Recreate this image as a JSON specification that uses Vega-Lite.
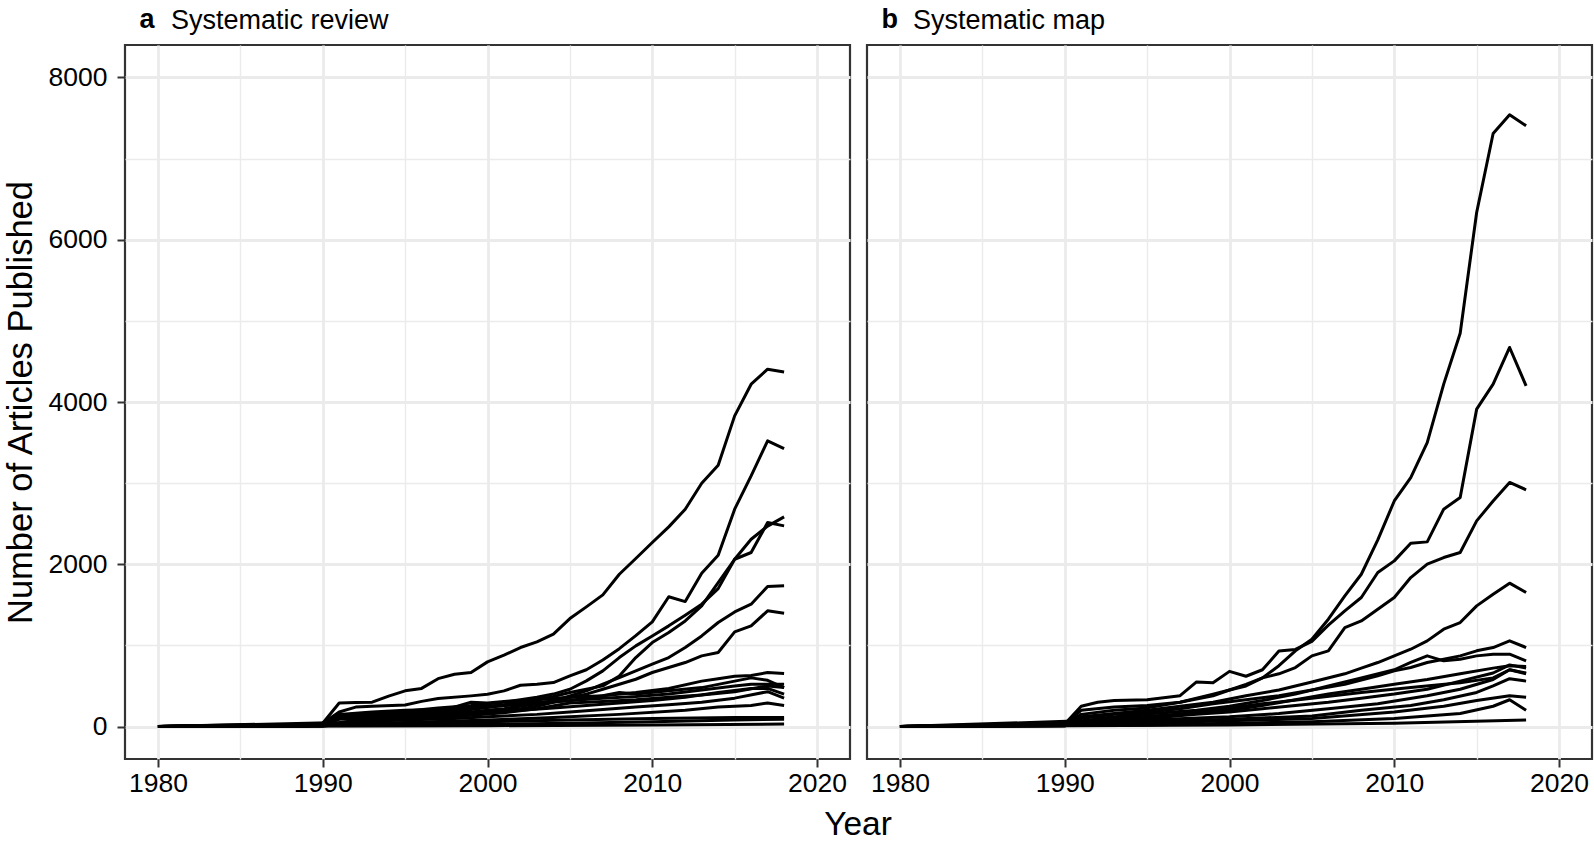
{
  "$schema": "https://vega.github.io/schema/vega-lite/v6.json",
  "padding": {"left": 1, "top": 5, "right": 2, "bottom": 5},
  "bounds": "flush",
  "spacing": 17,
  "config": {
    "font": "Liberation Sans",
    "view": {"stroke": "#333333", "strokeWidth": 2.2, "fill": "white"},
    "background": "white"
  },
  "datasets": {
    "d": [
      {"p":"a","s":"A","year":1980,"n":0},{"p":"a","s":"A","year":1985,"n":5},{"p":"a","s":"A","year":1986,"n":20},{"p":"a","s":"A","year":1987,"n":10},{"p":"a","s":"A","year":1989,"n":15},{"p":"a","s":"A","year":1990,"n":40},{"p":"a","s":"A","year":1991,"n":290},{"p":"a","s":"A","year":1992,"n":295},{"p":"a","s":"A","year":1993,"n":300},{"p":"a","s":"A","year":1994,"n":375},{"p":"a","s":"A","year":1995,"n":440},{"p":"a","s":"A","year":1996,"n":470},{"p":"a","s":"A","year":1997,"n":590},{"p":"a","s":"A","year":1998,"n":645},{"p":"a","s":"A","year":1999,"n":665},{"p":"a","s":"A","year":2000,"n":797},{"p":"a","s":"A","year":2001,"n":880},{"p":"a","s":"A","year":2002,"n":974},{"p":"a","s":"A","year":2003,"n":1043},{"p":"a","s":"A","year":2004,"n":1138},{"p":"a","s":"A","year":2005,"n":1331},{"p":"a","s":"A","year":2006,"n":1475},{"p":"a","s":"A","year":2007,"n":1623},{"p":"a","s":"A","year":2008,"n":1877},{"p":"a","s":"A","year":2009,"n":2071},{"p":"a","s":"A","year":2010,"n":2268},{"p":"a","s":"A","year":2011,"n":2461},{"p":"a","s":"A","year":2012,"n":2679},{"p":"a","s":"A","year":2013,"n":2999},{"p":"a","s":"A","year":2014,"n":3221},{"p":"a","s":"A","year":2015,"n":3829},{"p":"a","s":"A","year":2016,"n":4219},{"p":"a","s":"A","year":2017,"n":4404},{"p":"a","s":"A","year":2018,"n":4371},
      {"p":"a","s":"B","year":1980,"n":0},{"p":"a","s":"B","year":1986,"n":25},{"p":"a","s":"B","year":1989,"n":10},{"p":"a","s":"B","year":1990,"n":40},{"p":"a","s":"B","year":1991,"n":180},{"p":"a","s":"B","year":1992,"n":240},{"p":"a","s":"B","year":1993,"n":250},{"p":"a","s":"B","year":1995,"n":265},{"p":"a","s":"B","year":1996,"n":310},{"p":"a","s":"B","year":1997,"n":345},{"p":"a","s":"B","year":1999,"n":378},{"p":"a","s":"B","year":2000,"n":398},{"p":"a","s":"B","year":2001,"n":440},{"p":"a","s":"B","year":2002,"n":509},{"p":"a","s":"B","year":2003,"n":522},{"p":"a","s":"B","year":2004,"n":542},{"p":"a","s":"B","year":2005,"n":624},{"p":"a","s":"B","year":2006,"n":700},{"p":"a","s":"B","year":2007,"n":820},{"p":"a","s":"B","year":2008,"n":960},{"p":"a","s":"B","year":2009,"n":1120},{"p":"a","s":"B","year":2010,"n":1290},{"p":"a","s":"B","year":2011,"n":1600},{"p":"a","s":"B","year":2012,"n":1540},{"p":"a","s":"B","year":2013,"n":1890},{"p":"a","s":"B","year":2014,"n":2110},{"p":"a","s":"B","year":2015,"n":2679},{"p":"a","s":"B","year":2016,"n":3090},{"p":"a","s":"B","year":2017,"n":3521},{"p":"a","s":"B","year":2018,"n":3426},
      {"p":"a","s":"C","year":1980,"n":0},{"p":"a","s":"C","year":1986,"n":15},{"p":"a","s":"C","year":1989,"n":5},{"p":"a","s":"C","year":1990,"n":30},{"p":"a","s":"C","year":1991,"n":120},{"p":"a","s":"C","year":1993,"n":150},{"p":"a","s":"C","year":1995,"n":170},{"p":"a","s":"C","year":1997,"n":200},{"p":"a","s":"C","year":1999,"n":230},{"p":"a","s":"C","year":2000,"n":250},{"p":"a","s":"C","year":2001,"n":270},{"p":"a","s":"C","year":2002,"n":300},{"p":"a","s":"C","year":2003,"n":330},{"p":"a","s":"C","year":2004,"n":370},{"p":"a","s":"C","year":2005,"n":420},{"p":"a","s":"C","year":2006,"n":460},{"p":"a","s":"C","year":2007,"n":501},{"p":"a","s":"C","year":2008,"n":624},{"p":"a","s":"C","year":2009,"n":850},{"p":"a","s":"C","year":2010,"n":1035},{"p":"a","s":"C","year":2011,"n":1159},{"p":"a","s":"C","year":2012,"n":1302},{"p":"a","s":"C","year":2013,"n":1487},{"p":"a","s":"C","year":2014,"n":1775},{"p":"a","s":"C","year":2015,"n":2062},{"p":"a","s":"C","year":2016,"n":2309},{"p":"a","s":"C","year":2017,"n":2470},{"p":"a","s":"C","year":2018,"n":2584},
      {"p":"a","s":"D","year":1980,"n":0},{"p":"a","s":"D","year":1989,"n":5},{"p":"a","s":"D","year":1990,"n":30},{"p":"a","s":"D","year":1991,"n":140},{"p":"a","s":"D","year":1993,"n":170},{"p":"a","s":"D","year":1995,"n":190},{"p":"a","s":"D","year":1997,"n":230},{"p":"a","s":"D","year":1999,"n":260},{"p":"a","s":"D","year":2000,"n":280},{"p":"a","s":"D","year":2001,"n":300},{"p":"a","s":"D","year":2002,"n":330},{"p":"a","s":"D","year":2003,"n":360},{"p":"a","s":"D","year":2004,"n":400},{"p":"a","s":"D","year":2005,"n":460},{"p":"a","s":"D","year":2006,"n":563},{"p":"a","s":"D","year":2007,"n":686},{"p":"a","s":"D","year":2008,"n":850},{"p":"a","s":"D","year":2009,"n":994},{"p":"a","s":"D","year":2010,"n":1117},{"p":"a","s":"D","year":2011,"n":1241},{"p":"a","s":"D","year":2012,"n":1372},{"p":"a","s":"D","year":2013,"n":1508},{"p":"a","s":"D","year":2014,"n":1700},{"p":"a","s":"D","year":2015,"n":2062},{"p":"a","s":"D","year":2016,"n":2145},{"p":"a","s":"D","year":2017,"n":2514},{"p":"a","s":"D","year":2018,"n":2473},
      {"p":"a","s":"E","year":1980,"n":0},{"p":"a","s":"E","year":1990,"n":20},{"p":"a","s":"E","year":1991,"n":100},{"p":"a","s":"E","year":1993,"n":120},{"p":"a","s":"E","year":1995,"n":140},{"p":"a","s":"E","year":1997,"n":160},{"p":"a","s":"E","year":1999,"n":180},{"p":"a","s":"E","year":2000,"n":200},{"p":"a","s":"E","year":2001,"n":220},{"p":"a","s":"E","year":2002,"n":250},{"p":"a","s":"E","year":2003,"n":280},{"p":"a","s":"E","year":2004,"n":320},{"p":"a","s":"E","year":2005,"n":378},{"p":"a","s":"E","year":2006,"n":440},{"p":"a","s":"E","year":2007,"n":522},{"p":"a","s":"E","year":2008,"n":604},{"p":"a","s":"E","year":2009,"n":686},{"p":"a","s":"E","year":2010,"n":768},{"p":"a","s":"E","year":2011,"n":850},{"p":"a","s":"E","year":2012,"n":974},{"p":"a","s":"E","year":2013,"n":1117},{"p":"a","s":"E","year":2014,"n":1282},{"p":"a","s":"E","year":2015,"n":1413},{"p":"a","s":"E","year":2016,"n":1508},{"p":"a","s":"E","year":2017,"n":1726},{"p":"a","s":"E","year":2018,"n":1734},
      {"p":"a","s":"F","year":1980,"n":0},{"p":"a","s":"F","year":1990,"n":20},{"p":"a","s":"F","year":1991,"n":90},{"p":"a","s":"F","year":1993,"n":110},{"p":"a","s":"F","year":1995,"n":130},{"p":"a","s":"F","year":1997,"n":150},{"p":"a","s":"F","year":1999,"n":170},{"p":"a","s":"F","year":2001,"n":200},{"p":"a","s":"F","year":2002,"n":220},{"p":"a","s":"F","year":2003,"n":250},{"p":"a","s":"F","year":2004,"n":300},{"p":"a","s":"F","year":2005,"n":357},{"p":"a","s":"F","year":2006,"n":399},{"p":"a","s":"F","year":2007,"n":460},{"p":"a","s":"F","year":2008,"n":522},{"p":"a","s":"F","year":2009,"n":583},{"p":"a","s":"F","year":2010,"n":666},{"p":"a","s":"F","year":2011,"n":727},{"p":"a","s":"F","year":2012,"n":789},{"p":"a","s":"F","year":2013,"n":871},{"p":"a","s":"F","year":2014,"n":912},{"p":"a","s":"F","year":2015,"n":1167},{"p":"a","s":"F","year":2016,"n":1241},{"p":"a","s":"F","year":2017,"n":1426},{"p":"a","s":"F","year":2018,"n":1397},
      {"p":"a","s":"G","year":1980,"n":0},{"p":"a","s":"G","year":1990,"n":20},{"p":"a","s":"G","year":1991,"n":150},{"p":"a","s":"G","year":1993,"n":180},{"p":"a","s":"G","year":1995,"n":200},{"p":"a","s":"G","year":1997,"n":210},{"p":"a","s":"G","year":1999,"n":240},{"p":"a","s":"G","year":2001,"n":260},{"p":"a","s":"G","year":2003,"n":280},{"p":"a","s":"G","year":2005,"n":320},{"p":"a","s":"G","year":2007,"n":380},{"p":"a","s":"G","year":2009,"n":420},{"p":"a","s":"G","year":2011,"n":470},{"p":"a","s":"G","year":2013,"n":560},{"p":"a","s":"G","year":2014,"n":590},{"p":"a","s":"G","year":2015,"n":620},{"p":"a","s":"G","year":2016,"n":630},{"p":"a","s":"G","year":2017,"n":665},{"p":"a","s":"G","year":2018,"n":653},
      {"p":"a","s":"H","year":1980,"n":0},{"p":"a","s":"H","year":1990,"n":15},{"p":"a","s":"H","year":1991,"n":130},{"p":"a","s":"H","year":1993,"n":150},{"p":"a","s":"H","year":1995,"n":170},{"p":"a","s":"H","year":1997,"n":180},{"p":"a","s":"H","year":1999,"n":300},{"p":"a","s":"H","year":2000,"n":290},{"p":"a","s":"H","year":2001,"n":310},{"p":"a","s":"H","year":2003,"n":330},{"p":"a","s":"H","year":2005,"n":360},{"p":"a","s":"H","year":2007,"n":380},{"p":"a","s":"H","year":2008,"n":420},{"p":"a","s":"H","year":2009,"n":400},{"p":"a","s":"H","year":2011,"n":440},{"p":"a","s":"H","year":2013,"n":480},{"p":"a","s":"H","year":2015,"n":560},{"p":"a","s":"H","year":2016,"n":600},{"p":"a","s":"H","year":2017,"n":570},{"p":"a","s":"H","year":2018,"n":480},
      {"p":"a","s":"I","year":1980,"n":0},{"p":"a","s":"I","year":1990,"n":10},{"p":"a","s":"I","year":1991,"n":100},{"p":"a","s":"I","year":1993,"n":120},{"p":"a","s":"I","year":1995,"n":150},{"p":"a","s":"I","year":1997,"n":170},{"p":"a","s":"I","year":1999,"n":210},{"p":"a","s":"I","year":2001,"n":260},{"p":"a","s":"I","year":2003,"n":300},{"p":"a","s":"I","year":2005,"n":320},{"p":"a","s":"I","year":2007,"n":350},{"p":"a","s":"I","year":2009,"n":370},{"p":"a","s":"I","year":2011,"n":400},{"p":"a","s":"I","year":2013,"n":450},{"p":"a","s":"I","year":2015,"n":500},{"p":"a","s":"I","year":2016,"n":520},{"p":"a","s":"I","year":2017,"n":520},{"p":"a","s":"I","year":2018,"n":520},
      {"p":"a","s":"J","year":1980,"n":0},{"p":"a","s":"J","year":1990,"n":10},{"p":"a","s":"J","year":1992,"n":80},{"p":"a","s":"J","year":1994,"n":100},{"p":"a","s":"J","year":1996,"n":120},{"p":"a","s":"J","year":1998,"n":140},{"p":"a","s":"J","year":2000,"n":170},{"p":"a","s":"J","year":2002,"n":200},{"p":"a","s":"J","year":2004,"n":230},{"p":"a","s":"J","year":2006,"n":260},{"p":"a","s":"J","year":2008,"n":290},{"p":"a","s":"J","year":2010,"n":320},{"p":"a","s":"J","year":2012,"n":360},{"p":"a","s":"J","year":2014,"n":420},{"p":"a","s":"J","year":2016,"n":470},{"p":"a","s":"J","year":2017,"n":470},{"p":"a","s":"J","year":2018,"n":400},
      {"p":"a","s":"K","year":1980,"n":0},{"p":"a","s":"K","year":1990,"n":5},{"p":"a","s":"K","year":1992,"n":60},{"p":"a","s":"K","year":1995,"n":80},{"p":"a","s":"K","year":1998,"n":100},{"p":"a","s":"K","year":2000,"n":120},{"p":"a","s":"K","year":2003,"n":150},{"p":"a","s":"K","year":2005,"n":180},{"p":"a","s":"K","year":2007,"n":210},{"p":"a","s":"K","year":2009,"n":240},{"p":"a","s":"K","year":2011,"n":270},{"p":"a","s":"K","year":2013,"n":300},{"p":"a","s":"K","year":2015,"n":350},{"p":"a","s":"K","year":2017,"n":430},{"p":"a","s":"K","year":2018,"n":350},
      {"p":"a","s":"L","year":1980,"n":0},{"p":"a","s":"L","year":1991,"n":30},{"p":"a","s":"L","year":1995,"n":50},{"p":"a","s":"L","year":2000,"n":80},{"p":"a","s":"L","year":2004,"n":110},{"p":"a","s":"L","year":2008,"n":150},{"p":"a","s":"L","year":2012,"n":200},{"p":"a","s":"L","year":2014,"n":240},{"p":"a","s":"L","year":2016,"n":260},{"p":"a","s":"L","year":2017,"n":290},{"p":"a","s":"L","year":2018,"n":260},
      {"p":"a","s":"M","year":1980,"n":0},{"p":"a","s":"M","year":1991,"n":20},{"p":"a","s":"M","year":1995,"n":40},{"p":"a","s":"M","year":2000,"n":60},{"p":"a","s":"M","year":2005,"n":80},{"p":"a","s":"M","year":2010,"n":100},{"p":"a","s":"M","year":2015,"n":110},{"p":"a","s":"M","year":2018,"n":110},
      {"p":"a","s":"N","year":1980,"n":0},{"p":"a","s":"N","year":1995,"n":20},{"p":"a","s":"N","year":2005,"n":40},{"p":"a","s":"N","year":2010,"n":60},{"p":"a","s":"N","year":2015,"n":80},{"p":"a","s":"N","year":2018,"n":90},
      {"p":"a","s":"O","year":1980,"n":0},{"p":"a","s":"O","year":2000,"n":10},{"p":"a","s":"O","year":2010,"n":20},{"p":"a","s":"O","year":2018,"n":30},
      {"p":"a","s":"Q","year":1980,"n":0},{"p":"a","s":"Q","year":1991,"n":50},{"p":"a","s":"Q","year":1993,"n":70},{"p":"a","s":"Q","year":1995,"n":100},{"p":"a","s":"Q","year":1997,"n":110},{"p":"a","s":"Q","year":1999,"n":140},{"p":"a","s":"Q","year":2001,"n":170},{"p":"a","s":"Q","year":2003,"n":220},{"p":"a","s":"Q","year":2005,"n":290},{"p":"a","s":"Q","year":2007,"n":310},{"p":"a","s":"Q","year":2009,"n":330},{"p":"a","s":"Q","year":2011,"n":360},{"p":"a","s":"Q","year":2013,"n":390},{"p":"a","s":"Q","year":2015,"n":430},{"p":"a","s":"Q","year":2017,"n":500},{"p":"a","s":"Q","year":2018,"n":480},

      {"p":"b","s":"P","year":1980,"n":0},{"p":"b","s":"P","year":1985,"n":10},{"p":"b","s":"P","year":1990,"n":30},{"p":"b","s":"P","year":1991,"n":200},{"p":"b","s":"P","year":1993,"n":240},{"p":"b","s":"P","year":1995,"n":260},{"p":"b","s":"P","year":1997,"n":300},{"p":"b","s":"P","year":1999,"n":380},{"p":"b","s":"P","year":2000,"n":450},{"p":"b","s":"P","year":2001,"n":520},{"p":"b","s":"P","year":2002,"n":600},{"p":"b","s":"P","year":2003,"n":750},{"p":"b","s":"P","year":2004,"n":933},{"p":"b","s":"P","year":2005,"n":1076},{"p":"b","s":"P","year":2006,"n":1323},{"p":"b","s":"P","year":2007,"n":1610},{"p":"b","s":"P","year":2008,"n":1877},{"p":"b","s":"P","year":2009,"n":2300},{"p":"b","s":"P","year":2010,"n":2780},{"p":"b","s":"P","year":2011,"n":3069},{"p":"b","s":"P","year":2012,"n":3500},{"p":"b","s":"P","year":2013,"n":4220},{"p":"b","s":"P","year":2014,"n":4848},{"p":"b","s":"P","year":2015,"n":6336},{"p":"b","s":"P","year":2016,"n":7310},{"p":"b","s":"P","year":2017,"n":7540},{"p":"b","s":"P","year":2018,"n":7404},
      {"p":"b","s":"Q","year":1980,"n":0},{"p":"b","s":"Q","year":1986,"n":20},{"p":"b","s":"Q","year":1990,"n":30},{"p":"b","s":"Q","year":1991,"n":250},{"p":"b","s":"Q","year":1992,"n":300},{"p":"b","s":"Q","year":1993,"n":320},{"p":"b","s":"Q","year":1995,"n":330},{"p":"b","s":"Q","year":1997,"n":380},{"p":"b","s":"Q","year":1998,"n":550},{"p":"b","s":"Q","year":1999,"n":540},{"p":"b","s":"Q","year":2000,"n":680},{"p":"b","s":"Q","year":2001,"n":620},{"p":"b","s":"Q","year":2002,"n":700},{"p":"b","s":"Q","year":2003,"n":930},{"p":"b","s":"Q","year":2004,"n":950},{"p":"b","s":"Q","year":2005,"n":1050},{"p":"b","s":"Q","year":2006,"n":1250},{"p":"b","s":"Q","year":2007,"n":1426},{"p":"b","s":"Q","year":2008,"n":1590},{"p":"b","s":"Q","year":2009,"n":1898},{"p":"b","s":"Q","year":2010,"n":2042},{"p":"b","s":"Q","year":2011,"n":2260},{"p":"b","s":"Q","year":2012,"n":2276},{"p":"b","s":"Q","year":2013,"n":2679},{"p":"b","s":"Q","year":2014,"n":2823},{"p":"b","s":"Q","year":2015,"n":3912},{"p":"b","s":"Q","year":2016,"n":4220},{"p":"b","s":"Q","year":2017,"n":4672},{"p":"b","s":"Q","year":2018,"n":4199},
      {"p":"b","s":"R","year":1980,"n":0},{"p":"b","s":"R","year":1990,"n":20},{"p":"b","s":"R","year":1991,"n":150},{"p":"b","s":"R","year":1993,"n":200},{"p":"b","s":"R","year":1995,"n":230},{"p":"b","s":"R","year":1997,"n":300},{"p":"b","s":"R","year":1999,"n":400},{"p":"b","s":"R","year":2000,"n":450},{"p":"b","s":"R","year":2001,"n":500},{"p":"b","s":"R","year":2002,"n":600},{"p":"b","s":"R","year":2003,"n":650},{"p":"b","s":"R","year":2004,"n":727},{"p":"b","s":"R","year":2005,"n":871},{"p":"b","s":"R","year":2006,"n":933},{"p":"b","s":"R","year":2007,"n":1220},{"p":"b","s":"R","year":2008,"n":1302},{"p":"b","s":"R","year":2009,"n":1446},{"p":"b","s":"R","year":2010,"n":1590},{"p":"b","s":"R","year":2011,"n":1836},{"p":"b","s":"R","year":2012,"n":2001},{"p":"b","s":"R","year":2013,"n":2083},{"p":"b","s":"R","year":2014,"n":2145},{"p":"b","s":"R","year":2015,"n":2535},{"p":"b","s":"R","year":2016,"n":2780},{"p":"b","s":"R","year":2017,"n":3008},{"p":"b","s":"R","year":2018,"n":2918},
      {"p":"b","s":"S","year":1980,"n":0},{"p":"b","s":"S","year":1990,"n":20},{"p":"b","s":"S","year":1991,"n":120},{"p":"b","s":"S","year":1993,"n":160},{"p":"b","s":"S","year":1995,"n":200},{"p":"b","s":"S","year":1997,"n":250},{"p":"b","s":"S","year":1999,"n":300},{"p":"b","s":"S","year":2001,"n":380},{"p":"b","s":"S","year":2003,"n":450},{"p":"b","s":"S","year":2005,"n":550},{"p":"b","s":"S","year":2007,"n":650},{"p":"b","s":"S","year":2008,"n":720},{"p":"b","s":"S","year":2009,"n":789},{"p":"b","s":"S","year":2010,"n":871},{"p":"b","s":"S","year":2011,"n":953},{"p":"b","s":"S","year":2012,"n":1056},{"p":"b","s":"S","year":2013,"n":1200},{"p":"b","s":"S","year":2014,"n":1282},{"p":"b","s":"S","year":2015,"n":1487},{"p":"b","s":"S","year":2016,"n":1631},{"p":"b","s":"S","year":2017,"n":1767},{"p":"b","s":"S","year":2018,"n":1652},
      {"p":"b","s":"T","year":1980,"n":0},{"p":"b","s":"T","year":1990,"n":15},{"p":"b","s":"T","year":1991,"n":100},{"p":"b","s":"T","year":1993,"n":150},{"p":"b","s":"T","year":1995,"n":180},{"p":"b","s":"T","year":1997,"n":220},{"p":"b","s":"T","year":1999,"n":280},{"p":"b","s":"T","year":2001,"n":330},{"p":"b","s":"T","year":2003,"n":380},{"p":"b","s":"T","year":2005,"n":450},{"p":"b","s":"T","year":2007,"n":520},{"p":"b","s":"T","year":2009,"n":624},{"p":"b","s":"T","year":2010,"n":686},{"p":"b","s":"T","year":2011,"n":727},{"p":"b","s":"T","year":2012,"n":789},{"p":"b","s":"T","year":2013,"n":830},{"p":"b","s":"T","year":2014,"n":871},{"p":"b","s":"T","year":2015,"n":933},{"p":"b","s":"T","year":2016,"n":974},{"p":"b","s":"T","year":2017,"n":1056},{"p":"b","s":"T","year":2018,"n":974},
      {"p":"b","s":"U","year":1980,"n":0},{"p":"b","s":"U","year":1990,"n":10},{"p":"b","s":"U","year":1992,"n":100},{"p":"b","s":"U","year":1994,"n":140},{"p":"b","s":"U","year":1996,"n":170},{"p":"b","s":"U","year":1998,"n":200},{"p":"b","s":"U","year":2000,"n":250},{"p":"b","s":"U","year":2002,"n":320},{"p":"b","s":"U","year":2004,"n":400},{"p":"b","s":"U","year":2006,"n":500},{"p":"b","s":"U","year":2008,"n":600},{"p":"b","s":"U","year":2010,"n":700},{"p":"b","s":"U","year":2011,"n":790},{"p":"b","s":"U","year":2012,"n":871},{"p":"b","s":"U","year":2013,"n":810},{"p":"b","s":"U","year":2014,"n":830},{"p":"b","s":"U","year":2015,"n":871},{"p":"b","s":"U","year":2016,"n":892},{"p":"b","s":"U","year":2017,"n":892},{"p":"b","s":"U","year":2018,"n":809},
      {"p":"b","s":"V","year":1980,"n":0},{"p":"b","s":"V","year":1990,"n":10},{"p":"b","s":"V","year":1992,"n":80},{"p":"b","s":"V","year":1994,"n":110},{"p":"b","s":"V","year":1996,"n":140},{"p":"b","s":"V","year":1998,"n":170},{"p":"b","s":"V","year":2000,"n":200},{"p":"b","s":"V","year":2002,"n":260},{"p":"b","s":"V","year":2004,"n":330},{"p":"b","s":"V","year":2006,"n":400},{"p":"b","s":"V","year":2008,"n":460},{"p":"b","s":"V","year":2010,"n":520},{"p":"b","s":"V","year":2012,"n":580},{"p":"b","s":"V","year":2014,"n":650},{"p":"b","s":"V","year":2016,"n":720},{"p":"b","s":"V","year":2017,"n":750},{"p":"b","s":"V","year":2018,"n":740},
      {"p":"b","s":"W","year":1980,"n":0},{"p":"b","s":"W","year":1990,"n":10},{"p":"b","s":"W","year":1992,"n":60},{"p":"b","s":"W","year":1995,"n":100},{"p":"b","s":"W","year":1998,"n":150},{"p":"b","s":"W","year":2000,"n":180},{"p":"b","s":"W","year":2002,"n":220},{"p":"b","s":"W","year":2004,"n":260},{"p":"b","s":"W","year":2006,"n":300},{"p":"b","s":"W","year":2008,"n":350},{"p":"b","s":"W","year":2010,"n":400},{"p":"b","s":"W","year":2012,"n":460},{"p":"b","s":"W","year":2014,"n":560},{"p":"b","s":"W","year":2016,"n":660},{"p":"b","s":"W","year":2017,"n":760},{"p":"b","s":"W","year":2018,"n":720},
      {"p":"b","s":"X","year":1980,"n":0},{"p":"b","s":"X","year":1991,"n":50},{"p":"b","s":"X","year":1995,"n":80},{"p":"b","s":"X","year":2000,"n":120},{"p":"b","s":"X","year":2003,"n":160},{"p":"b","s":"X","year":2006,"n":220},{"p":"b","s":"X","year":2009,"n":280},{"p":"b","s":"X","year":2012,"n":380},{"p":"b","s":"X","year":2014,"n":460},{"p":"b","s":"X","year":2016,"n":580},{"p":"b","s":"X","year":2017,"n":700},{"p":"b","s":"X","year":2018,"n":660},
      {"p":"b","s":"Y","year":1980,"n":0},{"p":"b","s":"Y","year":1991,"n":40},{"p":"b","s":"Y","year":1995,"n":60},{"p":"b","s":"Y","year":2000,"n":90},{"p":"b","s":"Y","year":2005,"n":130},{"p":"b","s":"Y","year":2008,"n":200},{"p":"b","s":"Y","year":2011,"n":260},{"p":"b","s":"Y","year":2013,"n":330},{"p":"b","s":"Y","year":2015,"n":420},{"p":"b","s":"Y","year":2016,"n":500},{"p":"b","s":"Y","year":2017,"n":590},{"p":"b","s":"Y","year":2018,"n":560},
      {"p":"b","s":"Z","year":1980,"n":0},{"p":"b","s":"Z","year":1992,"n":30},{"p":"b","s":"Z","year":1996,"n":50},{"p":"b","s":"Z","year":2000,"n":70},{"p":"b","s":"Z","year":2005,"n":100},{"p":"b","s":"Z","year":2010,"n":180},{"p":"b","s":"Z","year":2013,"n":250},{"p":"b","s":"Z","year":2015,"n":320},{"p":"b","s":"Z","year":2017,"n":380},{"p":"b","s":"Z","year":2018,"n":360},
      {"p":"b","s":"Z2","year":1980,"n":0},{"p":"b","s":"Z2","year":1995,"n":20},{"p":"b","s":"Z2","year":2000,"n":40},{"p":"b","s":"Z2","year":2005,"n":60},{"p":"b","s":"Z2","year":2010,"n":100},{"p":"b","s":"Z2","year":2014,"n":160},{"p":"b","s":"Z2","year":2016,"n":250},{"p":"b","s":"Z2","year":2017,"n":330},{"p":"b","s":"Z2","year":2018,"n":200},
      {"p":"b","s":"Z3","year":1980,"n":0},{"p":"b","s":"Z3","year":2000,"n":20},{"p":"b","s":"Z3","year":2010,"n":40},{"p":"b","s":"Z3","year":2018,"n":80},
      {"p":"b","s":"Z4","year":1980,"n":0},{"p":"b","s":"Z4","year":1991,"n":70},{"p":"b","s":"Z4","year":1993,"n":100},{"p":"b","s":"Z4","year":1996,"n":130},{"p":"b","s":"Z4","year":1999,"n":200},{"p":"b","s":"Z4","year":2002,"n":280},{"p":"b","s":"Z4","year":2005,"n":350},{"p":"b","s":"Z4","year":2008,"n":420},{"p":"b","s":"Z4","year":2011,"n":480},{"p":"b","s":"Z4","year":2014,"n":540},{"p":"b","s":"Z4","year":2016,"n":600},{"p":"b","s":"Z4","year":2017,"n":700},{"p":"b","s":"Z4","year":2018,"n":650}
    ]
  },
  "hconcat": [
    {
      "width": 725,
      "height": 714,
      "data": {"name": "d"},
      "transform": [{"filter": "datum.p === 'a'"}],
      "title": {
        "text": "a",
        "anchor": "start",
        "frame": "group",
        "font": "Liberation Sans",
        "fontSize": 27,
        "fontWeight": "bold",
        "color": "black",
        "baseline": "alphabetic",
        "dx": 14.5,
        "offset": -48.6
      },
      "mark": {"type": "line", "color": "black", "strokeWidth": 3, "strokeJoin": "round"},
      "encoding": {
        "x": {
          "field": "year", "type": "quantitative",
          "scale": {"domain": [1978, 2022], "nice": false, "zero": false},
          "axis": {
            "values": [1980, 1985, 1990, 1995, 2000, 2005, 2010, 2015, 2020],
            "format": "d",
            "labelExpr": "datum.value % 10 === 0 ? datum.label : ''",
            "grid": true, "gridColor": "#ebebeb",
            "gridWidth": {"condition": {"test": "datum.value % 10 === 0", "value": 2.8}, "value": 1.4},
            "tickOpacity": {"condition": {"test": "datum.value % 10 === 0", "value": 1}, "value": 0},
            "tickSize": 8, "tickWidth": 2, "tickColor": "#333333",
            "domain": false,
            "labelFontSize": 26.5, "labelColor": "black", "labelPadding": 3, "labelFlush": false,
            "title": "Systematic review", "titleFontSize": 27, "titleFontWeight": "normal", "titleColor": "black",
            "titleX": 45.5, "titleY": -730.5, "titleAlign": "left", "titleBaseline": "alphabetic"
          }
        },
        "y": {
          "field": "n", "type": "quantitative",
          "scale": {"domain": [-400, 8400], "nice": false},
          "axis": {
            "values": [0, 1000, 2000, 3000, 4000, 5000, 6000, 7000, 8000],
            "format": "d",
            "labelExpr": "datum.value % 2000 === 0 ? datum.label : ''",
            "grid": true, "gridColor": "#ebebeb",
            "gridWidth": {"condition": {"test": "datum.value % 2000 === 0", "value": 2.8}, "value": 1.4},
            "tickOpacity": {"condition": {"test": "datum.value % 2000 === 0", "value": 1}, "value": 0},
            "tickSize": 8, "tickWidth": 2, "tickColor": "#333333",
            "domain": false,
            "labelFontSize": 26.5, "labelColor": "black", "labelPadding": 10,
            "title": "Number of Articles Published", "titleFontSize": 34.5, "titleFontWeight": "normal", "titleColor": "black",
            "titlePadding": 10
          }
        },
        "detail": {"field": "s"}
      }
    },
    {
      "width": 725,
      "height": 714,
      "data": {"name": "d"},
      "transform": [{"filter": "datum.p === 'b'"}],
      "title": {
        "text": "b",
        "anchor": "start",
        "frame": "group",
        "font": "Liberation Sans",
        "fontSize": 27,
        "fontWeight": "bold",
        "color": "black",
        "baseline": "alphabetic",
        "dx": 14.5,
        "offset": -48.6
      },
      "mark": {"type": "line", "color": "black", "strokeWidth": 3, "strokeJoin": "round"},
      "encoding": {
        "x": {
          "field": "year", "type": "quantitative",
          "scale": {"domain": [1978, 2022], "nice": false, "zero": false},
          "axis": {
            "values": [1980, 1985, 1990, 1995, 2000, 2005, 2010, 2015, 2020],
            "format": "d",
            "labelExpr": "datum.value % 10 === 0 ? datum.label : ''",
            "grid": true, "gridColor": "#ebebeb",
            "gridWidth": {"condition": {"test": "datum.value % 10 === 0", "value": 2.8}, "value": 1.4},
            "tickOpacity": {"condition": {"test": "datum.value % 10 === 0", "value": 1}, "value": 0},
            "tickSize": 8, "tickWidth": 2, "tickColor": "#333333",
            "domain": false,
            "labelFontSize": 26.5, "labelColor": "black", "labelPadding": 3, "labelFlush": false,
            "title": "Year", "titleFontSize": 33.5, "titleFontWeight": "normal", "titleColor": "black",
            "titleX": -9.5, "titleY": 75, "titleAlign": "center", "titleBaseline": "alphabetic"
          }
        },
        "y": {
          "field": "n", "type": "quantitative",
          "scale": {"domain": [-400, 8400], "nice": false},
          "axis": {
            "values": [0, 1000, 2000, 3000, 4000, 5000, 6000, 7000, 8000],
            "grid": true, "gridColor": "#ebebeb",
            "gridWidth": {"condition": {"test": "datum.value % 2000 === 0", "value": 2.8}, "value": 1.4},
            "labels": false, "ticks": false, "domain": false,
            "title": "Systematic map", "titleFontSize": 27, "titleFontWeight": "normal", "titleColor": "black",
            "titleAngle": 0, "titleX": 45.5, "titleY": -16.5, "titleAlign": "left", "titleBaseline": "alphabetic"
          }
        },
        "detail": {"field": "s"}
      }
    }
  ]
}
